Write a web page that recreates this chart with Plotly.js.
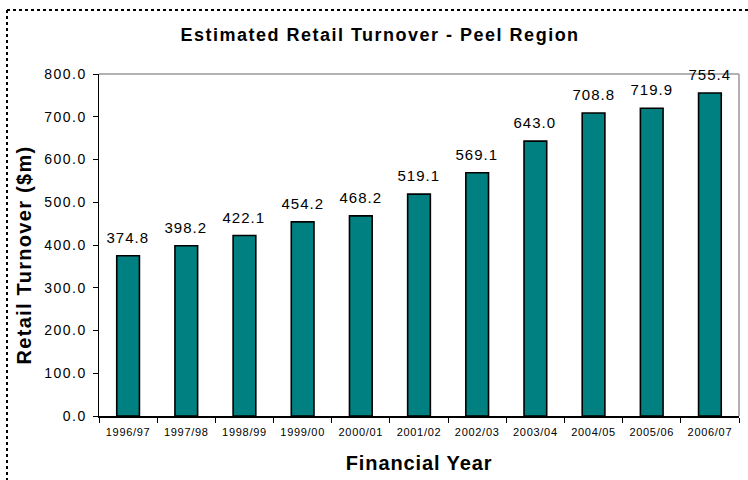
<!DOCTYPE html>
<html>
<head>
<meta charset="utf-8">
<script src="https://cdn.plot.ly/plotly-3.0.1.min.js"></script>
<style>
html,body{margin:0;padding:0;background:#fff;}
#chart{width:748px;height:480px;}
#chart .gtitle{letter-spacing:1.5px;}
#chart .ytick text{letter-spacing:1.5px;}
#chart .xtick text{letter-spacing:0.7px;}
#chart .annotation.ytitle text{letter-spacing:1.3px;}
#chart .annotation.xtitle text{letter-spacing:0.9px;}
#chart .annotation.bar-label text{letter-spacing:1px;}
</style>
</head>
<body>
<div id="chart"></div>
<script>
const years = ["1996/97","1997/98","1998/99","1999/00","2000/01","2001/02","2002/03","2003/04","2004/05","2005/06","2006/07"];
const turnover = [374.8,398.2,422.1,454.2,468.2,519.1,569.1,643.0,708.8,719.9,755.4];
const yTicks = [0,100,200,300,400,500,600,700,800];

const FONT = "Liberation Sans, Arial, sans-serif";
const L = 99, R = 9, T = 74, B = 64, W = 748, H = 480;
const pw = W - L - R, ph = H - T - B;
const px = v => (v - L) / pw;
const py = v => 1 - (v - T) / ph;

const trace = {
  type: "bar",
  x: years,
  y: turnover,
  width: 0.39,
  marker: {color: "#008080", line: {color: "#000000", width: 1.6}},
  hoverinfo: "x+y"
};

const barLabels = years.map((c, i) => ({
  text: turnover[i].toFixed(1),
  xref: "x", yref: "y",
  x: c, y: turnover[i],
  xanchor: "center", yanchor: "bottom",
  yshift: 8,
  showarrow: false,
  font: {family: FONT, size: 15, color: "#000"},
  name: "bar-label"
}));

const layout = {
  width: W, height: H,
  margin: {l: L, r: R, t: T, b: B, pad: 0},
  paper_bgcolor: "#fff",
  plot_bgcolor: "#fff",
  showlegend: false,
  font: {family: FONT, color: "#000"},
  title: {
    text: "<b>Estimated Retail Turnover - Peel Region</b>",
    font: {family: FONT, size: 18, color: "#000"},
    xref: "container", x: 380 / W, xanchor: "center",
    yref: "container", y: 1 - 35 / H, yanchor: "middle"
  },
  xaxis: {
    type: "category",
    tickson: "boundaries",
    ticks: "outside", ticklen: 5, tickcolor: "#000", tickwidth: 1,
    tickfont: {family: FONT, size: 11, color: "#000"},
    ticklabelstandoff: 5,
    showline: true, linecolor: "#000", linewidth: 1.5,
    showgrid: false, zeroline: false,
    range: [-0.5, 10.5],
    fixedrange: true
  },
  yaxis: {
    range: [0, 800],
    tickvals: yTicks,
    ticktext: yTicks.map(v => v.toFixed(1)),
    ticks: "outside", ticklen: 5, tickcolor: "#000", tickwidth: 1,
    tickfont: {family: FONT, size: 14, color: "#000"},
    showline: true, linecolor: "#000", linewidth: 1.5,
    showgrid: false, zeroline: false,
    ticklabelstandoff: 3,
    fixedrange: true
  },
  annotations: [
    {
      text: "<b>Retail Turnover ($m)</b>",
      xref: "paper", yref: "paper",
      x: px(23.5), y: py(255), xanchor: "center", yanchor: "middle",
      textangle: -90, showarrow: false,
      font: {family: FONT, size: 20, color: "#000"},
      name: "ytitle"
    },
    {
      text: "<b>Financial Year</b>",
      xref: "paper", yref: "paper",
      x: 0.5, y: py(463), xanchor: "center", yanchor: "middle",
      showarrow: false,
      font: {family: FONT, size: 20, color: "#000"},
      name: "xtitle"
    }
  ].concat(barLabels),
  shapes: [
    {type: "line", xref: "paper", yref: "paper", x0: 0, x1: 1, y0: 1, y1: 1, line: {color: "#999", width: 1.5}, layer: "below"},
    {type: "line", xref: "paper", yref: "paper", x0: 1, x1: 1, y0: 0, y1: 1, line: {color: "#999", width: 1.5}, layer: "below"},
    {type: "line", xref: "paper", yref: "paper", x0: px(7), x1: px(760), y0: py(10), y1: py(10), line: {color: "#000", width: 2, dash: "3px,3px"}},
    {type: "line", xref: "paper", yref: "paper", x0: px(7), x1: px(7), y0: py(10), y1: py(490), line: {color: "#000", width: 2, dash: "3px,3px"}}
  ]
};

Plotly.newPlot("chart", [trace], layout, {displayModeBar: false, staticPlot: true}).then(() => {
  const groups = document.querySelectorAll("#chart .annotation");
  const all = layout.annotations;
  groups.forEach((g, i) => { if (all[i] && all[i].name) g.classList.add(all[i].name); });
});
</script>
</body>
</html>
